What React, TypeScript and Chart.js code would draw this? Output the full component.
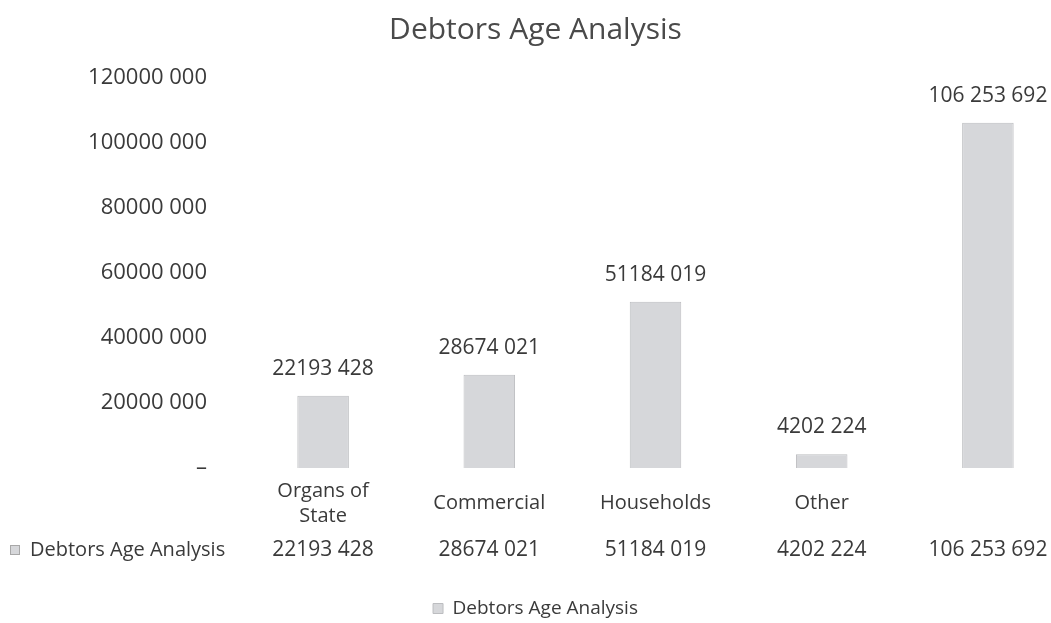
import React, { useEffect, useRef } from "react";
import { Chart, registerables } from "chart.js";

Chart.register(...registerables);

const categories: (string | string[])[] = [["Organs of", "State"], "Commercial", "Households", "Other", ""];
const values = [22193428, 28674021, 51184019, 4202224, 106253692];
const valueLabels = ["22193 428", "28674 021", "51184 019", "4202 224", "106 253 692"];
const seriesName = "Debtors Age Analysis";
const yTicks: Record<number, string> = {
  0: "–",
  20000000: "20000 000",
  40000000: "40000 000",
  60000000: "60000 000",
  80000000: "80000 000",
  100000000: "100000 000",
  120000000: "120000 000",
};

const FONT = "'Open Sans', 'DejaVu Sans', sans-serif";
const TEXT = "#3a3a3a";
const BAR_FILL = "#d6d7da";
const BAR_BORDER = "#bcbdc0";

const overlayPlugin = {
  id: "overlay",
  afterDatasetsDraw(chart: any) {
    const ctx = chart.ctx;
    const meta = chart.getDatasetMeta(0);
    ctx.save();
    ctx.fillStyle = TEXT;
    ctx.textAlign = "center";
    ctx.textBaseline = "middle";
    ctx.font = `21px ${FONT}`;
    meta.data.forEach((bar: any, i: number) => {
      ctx.fillText(valueLabels[i], bar.x, bar.y - 27);
    });
    // data table row
    const rowY = 550;
    meta.data.forEach((bar: any, i: number) => {
      ctx.fillText(valueLabels[i], bar.x, rowY);
    });
    ctx.textAlign = "left";
    ctx.font = `20px ${FONT}`;
    ctx.fillText(seriesName, 30, rowY);
    ctx.fillStyle = BAR_FILL;
    ctx.fillRect(10, rowY - 5, 10, 10);
    ctx.strokeStyle = "#a8a8a8";
    ctx.lineWidth = 1;
    ctx.strokeRect(10.5, rowY - 4.5, 9, 9);
    ctx.restore();
  },
};

export default function App() {
  const canvasRef = useRef<HTMLCanvasElement | null>(null);

  useEffect(() => {
    if (!canvasRef.current) return;
    const chart = new Chart(canvasRef.current, {
      type: "bar",
      data: {
        labels: categories,
        datasets: [
          {
            label: seriesName,
            data: values,
            backgroundColor: BAR_FILL,
            borderColor: BAR_BORDER,
            borderWidth: 1,
            barPercentage: 0.62,
            categoryPercentage: 0.5,
          },
        ],
      },
      options: {
        animation: false,
        responsive: false,
        maintainAspectRatio: false,
        layout: { padding: { left: 0, right: 4, top: 12, bottom: -5 } },
        plugins: {
          title: {
            display: true,
            text: "Debtors Age Analysis",
            color: "#4a4a4a",
            font: { family: FONT, size: 30, weight: "normal", lineHeight: 1.2 },
            padding: { top: 0, bottom: 30 },
          },
          legend: {
            display: true,
            position: "bottom",
            labels: {
              color: TEXT,
              font: { family: FONT, size: 19 },
              boxWidth: 10,
              boxHeight: 10,
              padding: 8,
            },
          },
          tooltip: { enabled: false },
        },
        scales: {
          x: {
            grid: { display: false, drawTicks: false },
            border: { display: false },
            ticks: {
              color: TEXT,
              font: { family: FONT, size: 20, lineHeight: 1.25 },
              padding: 23,
              maxRotation: 0,
              autoSkip: false,
              crossAlign: "center",
            },
            afterFit(scale: any) {
              scale.height = 123;
            },
          },
          y: {
            min: 0,
            max: 120000000,
            grid: { display: false, drawTicks: false },
            border: { display: false },
            ticks: {
              stepSize: 20000000,
              color: TEXT,
              font: { family: FONT, size: 22 },
              padding: 33,
              callback: (v: any) => yTicks[Number(v)] ?? "",
            },
            afterFit(scale: any) {
              scale.width = 240;
            },
          },
        },
      },
      plugins: [overlayPlugin],
    });
    return () => chart.destroy();
  }, []);

  return (
    <div style={{ position: "absolute", left: 0, top: 0, width: 1051, height: 623, overflow: "hidden", background: "#fff" }}>
      <canvas ref={canvasRef} width={1075} height={623} style={{ display: "block" }} />
    </div>
  );
}
